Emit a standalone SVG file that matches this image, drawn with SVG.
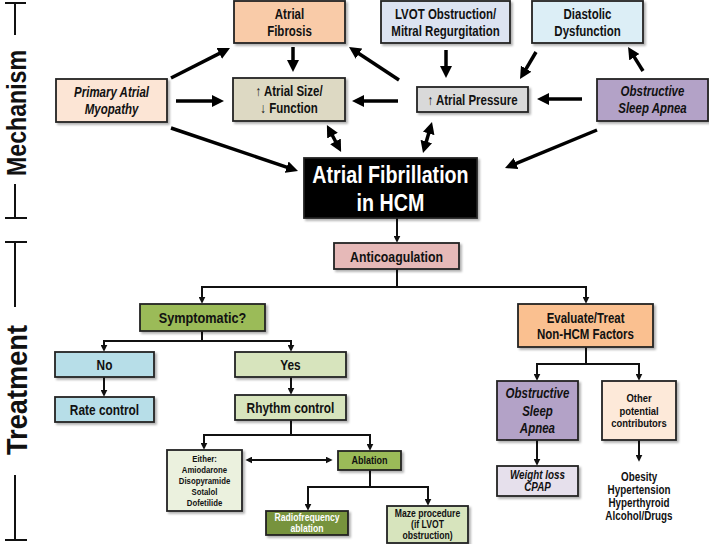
<svg xmlns="http://www.w3.org/2000/svg" width="709" height="544" viewBox="0 0 709 544">
<defs>
<filter id="sh" x="-10%" y="-10%" width="130%" height="140%">
<feDropShadow dx="2" dy="2" stdDeviation="1.2" flood-color="#000" flood-opacity="0.3"/>
</filter>
<marker id="big" markerUnits="userSpaceOnUse" viewBox="0 0 12 12" markerWidth="12" markerHeight="12" refX="3" refY="6" orient="auto-start-reverse">
<path d="M0,0 L12,6 L0,12 z" fill="#000"/>
</marker>
<marker id="sm" markerUnits="userSpaceOnUse" viewBox="0 0 8 8" markerWidth="7" markerHeight="7" refX="5" refY="4" orient="auto-start-reverse">
<path d="M0,0 L8,4 L0,8 z" fill="#111"/>
</marker>
</defs>
<style>
.bx{stroke:#222;stroke-width:1.8;filter:url(#sh)}
text{font-family:"Liberation Sans",Arial,sans-serif;font-weight:bold;fill:#111;text-anchor:middle;dominant-baseline:central;transform-box:fill-box;transform-origin:center;transform:scaleX(0.82)}
.it{font-style:italic}
.m{font-size:14px}
.side{font-size:28px;transform:none}
.tk{stroke:#111;stroke-width:2;fill:none}
.ba{stroke:#000;stroke-width:3.5;fill:none;marker-end:url(#big)}
.bb{stroke:#000;stroke-width:3.5;fill:none;marker-start:url(#big);marker-end:url(#big)}
.sa{stroke:#111;stroke-width:2;fill:none;marker-end:url(#sm)}
.s2{stroke:#111;stroke-width:2;fill:none;marker-start:url(#sm);marker-end:url(#sm)}
.ln{stroke:#111;stroke-width:2;fill:none}
</style>
<rect width="709" height="544" fill="#fff"/>

<g id="side-labels">
<path class="tk" d="M5,3 H26 M15,3 V35 M15,184 V218 M5,218 H27"/>
<g transform="translate(16,113) rotate(-90)"><text class="side" x="0" y="0" textLength="126" lengthAdjust="spacingAndGlyphs">Mechanism</text></g>
<path class="tk" d="M5,242 H27 M15,242 V307 M15,475 V540 M5,540 H27"/>
<g transform="translate(16,390) rotate(-90)"><text class="side" x="0" y="0" style="font-size:30px" textLength="130" lengthAdjust="spacingAndGlyphs">Treatment</text></g>
</g>

<g id="connectors">
<line class="ba" x1="171" y1="78" x2="222" y2="52.1"/>
<line class="ba" x1="176" y1="101" x2="215" y2="101"/>
<line class="ba" x1="171" y1="128" x2="289.5" y2="168.1"/>
<line class="ba" x1="293" y1="47" x2="293" y2="63"/>
<line class="bb" x1="331.1" y1="133" x2="336.9" y2="144"/>
<line class="ba" x1="399" y1="80" x2="356.5" y2="52"/>
<line class="ba" x1="398" y1="101" x2="361" y2="101"/>
<line class="ba" x1="446" y1="50" x2="446" y2="69"/>
<line class="ba" x1="536" y1="52" x2="524.6" y2="71.3"/>
<line class="ba" x1="643" y1="71" x2="632.8" y2="54.6"/>
<line class="ba" x1="582" y1="99" x2="546" y2="99"/>
<line class="bb" x1="429.5" y1="130.6" x2="425.5" y2="144.4"/>
<line class="ba" x1="597" y1="130" x2="513.3" y2="164.6"/>

<path class="sa" d="M397,218 V240"/>
<path class="ln" d="M397,269 V287"/>
<path class="s2" d="M202,301 V287 H586 V301"/>
<path class="ln" d="M202,331 V341"/>
<path class="s2" d="M104,349 V341 H291 V349"/>
<path class="sa" d="M104,377 V394"/>
<path class="sa" d="M291,377 V392"/>
<path class="ln" d="M291,420 V435"/>
<path class="s2" d="M204,447 V435 H370 V448"/>
<path class="s2" d="M248,460 H330"/>
<path class="ln" d="M370,470 V487"/>
<path class="s2" d="M308,508 V487 H428 V503"/>
<path class="ln" d="M586,347 V364"/>
<path class="s2" d="M537,378 V364 H639 V378"/>
<path class="sa" d="M537,440 V463"/>
<path class="sa" d="M639,440 V459"/>
</g>

<g id="primary-atrial-myopathy">
<rect class="bx" x="56" y="79" width="111" height="43" fill="#FCE5D5"/>
<text class="m it" x="111.5" y="92">Primary Atrial</text>
<text class="m it" x="111.5" y="109">Myopathy</text>
</g>
<g id="atrial-fibrosis">
<rect class="bx" x="234" y="1" width="111" height="42" fill="#F9CBA8"/>
<text class="m" x="289.5" y="14">Atrial</text>
<text class="m" x="289.5" y="31">Fibrosis</text>
</g>
<g id="atrial-size">
<rect class="bx" x="233" y="78" width="112" height="43" fill="#DDD9C3"/>
<text class="m" x="289" y="91">↑ Atrial Size/</text>
<text class="m" x="289" y="108">↓ Function</text>
</g>
<g id="lvot">
<rect class="bx" x="381" y="1" width="129" height="42" fill="#DCE3F1"/>
<text class="m" x="445.5" y="14">LVOT Obstruction/</text>
<text class="m" x="445.5" y="31">Mitral Regurgitation</text>
</g>
<g id="diastolic">
<rect class="bx" x="532" y="1" width="111" height="42" fill="#DCEEF6"/>
<text class="m" x="587.5" y="14">Diastolic</text>
<text class="m" x="587.5" y="31">Dysfunction</text>
</g>
<g id="atrial-pressure">
<rect class="bx" x="417" y="87" width="111" height="25" fill="#D9D9D9"/>
<text class="m" x="472.5" y="100">↑ Atrial Pressure</text>
</g>
<g id="osa-mech">
<rect class="bx" x="597" y="79" width="111" height="42" fill="#B3A2C7"/>
<text class="m it" x="652.5" y="91">Obstructive</text>
<text class="m it" x="652.5" y="108">Sleep Apnea</text>
</g>
<g id="af-hcm">
<rect class="bx" x="304" y="158" width="173" height="60" fill="#000"/>
<text x="390.5" y="175" style="font-size:24px;fill:#fff">Atrial Fibrillation</text>
<text x="390.5" y="203" style="font-size:24px;fill:#fff">in HCM</text>
</g>

<g id="anticoagulation">
<rect class="bx" x="334" y="243" width="125" height="26" fill="#E6B9B8"/>
<text x="396.5" y="257" style="font-size:15px">Anticoagulation</text>
</g>
<g id="symptomatic">
<rect class="bx" x="140" y="304" width="125" height="27" fill="#9BBB59"/>
<text x="202.5" y="318" style="font-size:15.5px">Symptomatic?</text>
</g>
<g id="evaluate">
<rect class="bx" x="518" y="304" width="135" height="43" fill="#FAC090"/>
<text class="m" x="585.5" y="318">Evaluate/Treat</text>
<text class="m" x="585.5" y="334">Non-HCM Factors</text>
</g>
<g id="no">
<rect class="bx" x="55" y="352" width="99" height="25" fill="#B7DEE8"/>
<text x="104.5" y="365" style="font-size:14.5px">No</text>
</g>
<g id="rate-control">
<rect class="bx" x="55" y="397" width="99" height="25" fill="#B7DEE8"/>
<text x="104.5" y="410" style="font-size:14.5px">Rate control</text>
</g>
<g id="yes">
<rect class="bx" x="235" y="352" width="111" height="25" fill="#D7E4BD"/>
<text x="290.5" y="365" style="font-size:14.5px">Yes</text>
</g>
<g id="rhythm-control">
<rect class="bx" x="235" y="395" width="111" height="25" fill="#D7E4BD"/>
<text x="290.5" y="408" style="font-size:14.5px">Rhythm control</text>
</g>
<g id="drugs">
<rect class="bx" x="167" y="450" width="75" height="61" fill="#EBF1DE"/>
<text x="204.5" y="459" style="font-size:9.5px">Either:</text>
<text x="204.5" y="470" style="font-size:9.5px">Amiodarone</text>
<text x="204.5" y="481" style="font-size:9.5px">Disopyramide</text>
<text x="204.5" y="492" style="font-size:9.5px">Sotalol</text>
<text x="204.5" y="503" style="font-size:9.5px">Dofetilide</text>
</g>
<g id="ablation">
<rect class="bx" x="338" y="451" width="63" height="19" fill="#9BBB59"/>
<text x="369.5" y="460.5" style="font-size:11px">Ablation</text>
</g>
<g id="radiofrequency">
<rect class="bx" x="266" y="511" width="82" height="24" fill="#77933C"/>
<text x="307" y="517.5" style="font-size:10.5px;fill:#fff">Radiofrequency</text>
<text x="307" y="528.5" style="font-size:10.5px;fill:#fff">ablation</text>
</g>
<g id="maze">
<rect class="bx" x="387" y="506" width="81" height="37" fill="#D7E4BD"/>
<text x="427.5" y="513" style="font-size:10.5px">Maze procedure</text>
<text x="427.5" y="524" style="font-size:10.5px">(if LVOT</text>
<text x="427.5" y="535" style="font-size:10.5px">obstruction)</text>
</g>
<g id="osa-treat">
<rect class="bx" x="497" y="381" width="81" height="59" fill="#B3A2C7"/>
<text class="m it" x="537.5" y="393.5">Obstructive</text>
<text class="m it" x="537.5" y="411">Sleep</text>
<text class="m it" x="537.5" y="428.5">Apnea</text>
</g>
<g id="other">
<rect class="bx" x="602" y="381" width="74" height="59" fill="#FDE9D9"/>
<text x="639" y="398" style="font-size:11.5px">Other</text>
<text x="639" y="411" style="font-size:11.5px">potential</text>
<text x="639" y="423" style="font-size:11.5px">contributors</text>
</g>
<g id="weight-loss">
<rect class="bx" x="497" y="466" width="81" height="30" fill="#E6E0EC"/>
<text class="it" x="537.5" y="475" style="font-size:12px">Weight loss</text>
<text class="it" x="537.5" y="487" style="font-size:12px">CPAP</text>
</g>
<g id="contributors-list">
<text x="639" y="477" style="font-size:12px">Obesity</text>
<text x="639" y="490" style="font-size:12px">Hypertension</text>
<text x="639" y="503" style="font-size:12px">Hyperthyroid</text>
<text x="639" y="516" style="font-size:12px">Alcohol/Drugs</text>
</g>
</svg>
